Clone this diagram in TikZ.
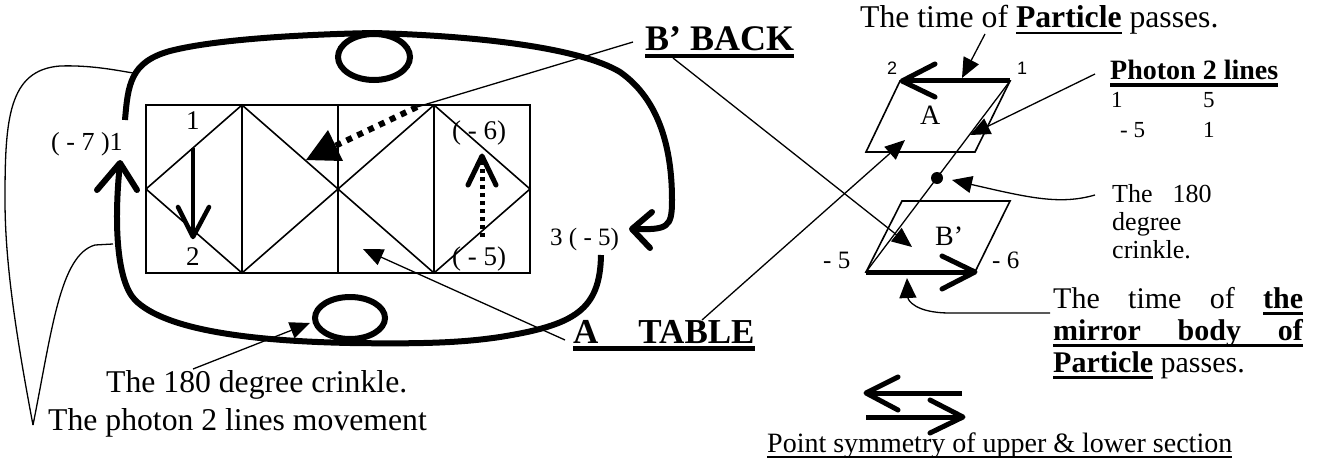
\documentclass[tikz,border=0pt]{standalone}
\usepackage{fontspec}
\setmainfont{Liberation Serif}
\newfontfamily\arialfont{Liberation Sans}
\usetikzlibrary{arrows.meta}
\newcommand{\fsz}[1]{\fontsize{#1}{#1}\selectfont}
% thick underline: #1 rule thickness, #2 depth of rule bottom below baseline, #3 text
\newcommand{\thul}[3]{\setbox0\hbox{#3}\rlap{\raisebox{-#2}{\rule{\wd0}{#1}}}\box0\relax}
\begin{document}
\begin{tikzpicture}[x=1pt,y=-1pt,
  gridline/.style={line width=1.6pt},
  thinline/.style={line width=1.3pt},
  fatline/.style={line width=6pt},
  boldarrow/.style={line width=5pt},
  leader/.style={line width=1.3pt,-{Triangle[length=20pt,width=17pt]}},
  dotted thick/.style={line width=6pt,dash pattern=on 6pt off 6pt},
  lbl/.style={inner sep=0pt,anchor=base west},
  blob/.style={circle,fill=black,inner sep=0pt,minimum size=12pt}
]
\useasboundingbox (0,0) rectangle (1320,468);
\fill[white] (0,0) rectangle (1320,468);

% ---------- table ----------
\draw[gridline] (146,105) rectangle (530,273);
\draw[gridline] (242,105) -- (242,273);
\draw[gridline] (338,105) -- (338,273);
\draw[gridline] (434,105) -- (434,273);
\draw[gridline] (146,189) -- (242,105) -- (338,189) -- (434,105) -- (530,189)
      -- (434,273) -- (338,189) -- (242,273) -- cycle;

\node[lbl] (t1) at (186,130) {\fsz{27}1};
\node[lbl] (t2) at (186,265) {\fsz{27}2};
\node[lbl] (tm6) at (452,140) {\fsz{27}( - 6)};
\node[lbl] (tm5) at (452,265) {\fsz{27}( - 5)};

% down arrow in cell 1
\coordinate (d1a) at (193,148);
\coordinate (d1b) at (193,237);
\draw[line width=4.5pt] (d1a) -- (d1b);
\draw[line width=4.5pt,line cap=round,line join=round] (178,207) -- (d1b) -- (209,207);

% dotted up arrow in cell 4
\coordinate (u4a) at (482,237);
\coordinate (u4b) at (482,157);
\draw[line width=5pt,dash pattern=on 4pt off 4pt] (u4a) -- (u4b);
\draw[boldarrow,line cap=round,line join=round] (468,185) -- (482,156) -- (496,185);

% ---------- thick loop ----------
\coordinate (upStart) at (125,120);
\coordinate (upEnd) at (632,229);
\draw[fatline] (upStart) .. controls (128,85) and (130,62) .. (170,51)
   .. controls (220,38) and (320,34) .. (374,33)
   .. controls (480,36) and (580,48) .. (620,72)
   .. controls (660,100) and (672,150) .. (672,200)
   .. controls (672,228) and (668,230) .. (upEnd);
\draw[fatline,line cap=round,line join=round] (652,212) -- (upEnd) -- (650,248);

\coordinate (loStart) at (601,255);
\coordinate (loEnd) at (120,163);
\draw[fatline] (loStart) .. controls (600,310) and (575,325) .. (500,337)
   .. controls (460,343) and (420,344) .. (350,343)
   .. controls (250,341) and (165,330) .. (135,300)
   .. controls (116,280) and (114,220) .. (loEnd);
\draw[fatline,line cap=round,line join=round] (97,190) -- (loEnd) -- (137,190);

\draw[fatline] (374,57) ellipse [x radius=36, y radius=23];
\draw[fatline] (350,318) ellipse [x radius=35, y radius=21];

\node[lbl] (m7) at (51,151) {\fsz{26}( - 7 )1};
\node[lbl] (p3) at (550,245) {\fsz{25}3 ( - 5)};

% ---------- bottom-left labels ----------
\node[lbl] (crinkleL) at (106,392) {\fsz{31.7}The 180 degree crinkle.};
\node[lbl] (photonL) at (48,430) {\fsz{31.7}The photon 2 lines movement};
\coordinate (vtip) at (33,425);
\draw[thinline] (vtip) .. controls (52,330) and (60,255) .. (95,245) -- (113,244);
\draw[thinline] (vtip) .. controls (15,330) and (5,260) .. (5,200)
   .. controls (5,120) and (8,70) .. (60,66) .. controls (90,65) and (115,70) .. (133,73);
\coordinate (cl0) at (193,369);
\coordinate (cl1) at (310,323);
\draw[leader] (cl0) -- (cl1);

% ---------- B' BACK and A TABLE ----------
\node[lbl] (bback) at (645,51) {\fsz{36}\thul{4pt}{7pt}{\textbf{B’ BACK}}};
\node[lbl] (atable) at (573,343) {\fsz{35}\thul{5pt}{8pt}{\textbf{A\hspace{40pt}TABLE}}};

\coordinate (bb0) at (633,42);
\coordinate (bb1) at (417,107);
\coordinate (bb2) at (306,160);
\draw[thinline] (bb0) -- (bb1);
\draw[dotted thick] (bb1) -- (335,146);
\fill (bb2) -- (328,130) -- (343,161) -- cycle;

\coordinate (bb3) at (673,58);
\coordinate (bb4) at (912,247);
\draw[leader] (bb3) -- (bb4);

\coordinate (at0) at (565,340);
\coordinate (at1) at (363,249);
\draw[leader] (at0) -- (at1);
\coordinate (at2) at (702,320);
\coordinate (at3) at (905,140);
\draw[leader] (at2) -- (at3);

% ---------- right: parallelograms ----------
\draw[gridline] (900,81) -- (1010,81) -- (975,152) -- (866,152) -- cycle;
\draw[gridline] (902,201) -- (1010,201) -- (975,272) -- (866,272) -- cycle;
\coordinate (pa1) at (1010,81);
\coordinate (pa2) at (902,81);
\draw[boldarrow] (pa1) -- (pa2);
\draw[boldarrow,line cap=round,line join=round] (935,64) -- (902,81) -- (935,97);
\coordinate (pb1) at (866,272);
\coordinate (pb2) at (975,272);
\draw[boldarrow] (pb1) -- (pb2);
\draw[boldarrow,line cap=round,line join=round] (942,256) -- (975,272) -- (942,289);
\draw[thinline] (pa1) -- (pb1);
\node[blob] (dot) at (937,178) {};

\node[lbl] (lA) at (920,125) {\fsz{28}A};
\node[lbl] (lB) at (935,245) {\fsz{28}B’};
\node[lbl] (n2) at (887,75) {\arialfont\fsz{18}2};
\node[lbl] (n1) at (1017,75) {\arialfont\fsz{18}1};
\node[lbl] (nm5) at (823,268) {\fsz{25}- 5};
\node[lbl] (nm6) at (992,268) {\fsz{25}- 6};

% ---------- right labels ----------
\node[lbl] (timeP) at (860,28) {\fsz{31.7}The time of \thul{2.2pt}{6pt}{\textbf{Particle}} passes.};
\draw[leader] (985,34) -- (962,78);

\node[lbl] (ph2) at (1110,80) {\fsz{28}\thul{3.5pt}{7pt}{\textbf{Photon 2 lines}}};
\node[lbl] (r1a) at (1111,108) {\fsz{23}1};
\node[lbl] (r1b) at (1203,108) {\fsz{23}5};
\node[lbl] (r2a) at (1120,138) {\fsz{23}- 5};
\node[lbl] (r2b) at (1203,138) {\fsz{23}1};
\draw[leader] (1095,74) -- (970,135);

\node[lbl] (c180a) at (1112,202) {\fsz{26}The\hspace{20pt}180};
\node[lbl] (c180b) at (1112,230) {\fsz{26}degree};
\node[lbl] (c180c) at (1112,258) {\fsz{26}crinkle.};
\draw[leader] (1095,195) .. controls (1060,205) and (1030,198) .. (952,180);

\node[lbl] (mir1) at (1053,308) {\fsz{30}\makebox[250pt][s]{The time of \thul{3pt}{7pt}{\textbf{the}}}};
\node[lbl] (mir2) at (1053,340) {\fsz{30}\thul{3pt}{7pt}{\makebox[250pt][s]{\textbf{mirror body of}}}};
\node[lbl] (mir3) at (1053,372) {\fsz{30}\thul{3pt}{7pt}{\textbf{Particle}} passes.};
\draw[leader] (1050,313) -- (950,313) .. controls (915,313) and (908,300) .. (907,278);

% ---------- symmetry arrows ----------
\coordinate (sa1) at (962,393);
\coordinate (sa2) at (866,393);
\draw[boldarrow] (sa1) -- (sa2);
\draw[boldarrow,line cap=round,line join=round] (898,377) -- (866,393) -- (898,410);
\coordinate (sb1) at (866,417);
\coordinate (sb2) at (963,417);
\draw[boldarrow] (sb1) -- (sb2);
\draw[boldarrow,line cap=round,line join=round] (930,400) -- (963,417) -- (930,433);

\node[lbl] (sym) at (767,452) {\fsz{28}\thul{2pt}{6pt}{Point symmetry of upper \& lower section}};
\end{tikzpicture}
\end{document}
